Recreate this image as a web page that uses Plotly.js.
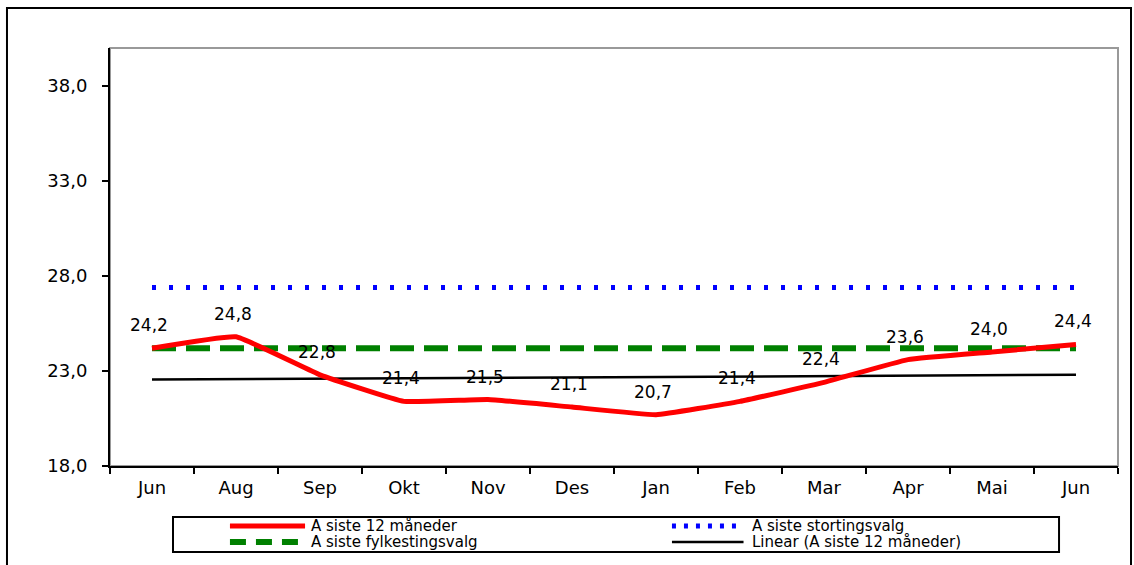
<!DOCTYPE html>
<html><head><meta charset="utf-8">
<script src="https://cdn.plot.ly/plotly-3.0.1.min.js"></script>
<style>html,body{margin:0;padding:0;background:#fff}#c{width:1134px;height:565px}</style>
</head><body><div id="c"></div>
<script>
const months = ["Jun","Aug","Sep","Okt","Nov","Des","Jan","Feb","Mar","Apr","Mai","Jun"];
const siste12 = [24.2,24.8,22.8,21.4,21.5,21.1,20.7,21.4,22.4,23.6,24.0,24.4];
const stortingsvalg = [27.4,27.4,27.4,27.4,27.4,27.4,27.4,27.4,27.4,27.4,27.4,27.4];
const fylkestingsvalg = [24.2,24.2,24.2,24.2,24.2,24.2,24.2,24.2,24.2,24.2,24.2,24.2];
const linearEnds = [22.55, 22.8];
const names = ["A siste 12 måneder","A siste stortingsvalg","A siste fylkestingsvalg","Linear (A siste 12 måneder)"];

const idx = months.map((m,i)=>i);
const font = "DejaVu Sans, Verdana, sans-serif";
const styles = [
 {color:'#ff0000', width:5},
 {color:'#0000ff', width:5, dash:'4px,13px'},
 {color:'#008000', width:6, dash:'24px,10px'},
 {color:'#000000', width:2.5}
];
const traces = [
 {x: idx, y: siste12, name: names[0], mode:'lines', line:Object.assign({shape:'spline', smoothing:0.3}, styles[0])},
 {x: idx, y: stortingsvalg, name: names[1], mode:'lines', line:styles[1]},
 {x: idx, y: fylkestingsvalg, name: names[2], mode:'lines', line:styles[2]},
 {x: [idx[0], idx[idx.length-1]], y: linearEnds, name: names[3], mode:'lines', line:styles[3]}
];
const order = [3,1,2,0];
const data = order.map(i=>traces[i]);

const bounds = [];
for (let i=0;i<=months.length;i++) bounds.push(i-0.5);

const annotations = siste12.map((v,i)=>({
  x:i, y:v, xref:'x', yref:'y', text:v.toFixed(1).replace('.',','), showarrow:false,
  yanchor:'middle', yshift:23, xshift:-3, font:{family:font, size:17, color:'#000'}
}));
const legRows = [-0.1435, -0.1818];
const legCols = [{l0:0.119, l1:0.1935, t:0.1985},{l0:0.5575, l1:0.6285, t:0.6355}];
const legendItems = [0,1,2,3];
const shapes = [
  {type:'rect', xref:'paper', yref:'paper', x0:0, x1:1, y0:0, y1:1, line:{color:'#999', width:2}, layer:'below'},
  {type:'rect', xref:'paper', yref:'paper', x0:-0.1022, x1:1.0129, y0:-0.26, y1:1.0957, line:{color:'#000', width:2}, layer:'below'},
  {type:'rect', xref:'paper', yref:'paper', x0:0.0625, x1:0.9415, y0:-0.2057, y1:-0.122, line:{color:'#000', width:2}}
];
legendItems.forEach(i=>{
  const col = legCols[i%2], row = legRows[Math.floor(i/2)];
  const st = styles[i];
  shapes.push({type:'line', xref:'paper', yref:'paper', x0:col.l0, x1:col.l1, y0:row, y1:row,
    line:{color:st.color, width:st.width, dash: i===1 ? '4px,8px' : (i===2 ? '16px,10px' : 'solid')}});
  annotations.push({xref:'paper', yref:'paper', x:col.t, y:row, xanchor:'left', yanchor:'middle',
    text:names[i], showarrow:false, borderpad:0, font:{family:font, size:15, color:'#000'}});
});

const layout = {
 width:1134, height:565, margin:{l:110, r:16, t:48, b:99},
 paper_bgcolor:'#fff', plot_bgcolor:'#fff', separators:',.',
 font:{family:font, size:18, color:'#000'},
 showlegend:false,
 xaxis:{range:[-0.5, 11.5], tickvals: idx, ticktext: months, ticks:'', showgrid:false, zeroline:false,
   showline:true, linecolor:'#000', linewidth:2, tickfont:{size:18}, automargin:false, ticklabelstandoff:4,
   minor:{tickvals: bounds, ticks:'outside', ticklen:6, tickcolor:'#000', tickwidth:2, showgrid:false}},
 yaxis:{range:[18,40], tick0:18, dtick:5, tickformat:'.1f', ticks:'outside', ticklen:6, tickwidth:2, tickcolor:'#000',
   showgrid:false, zeroline:false, showline:true, linecolor:'#000', linewidth:2, tickfont:{size:18}, automargin:false,
   ticklabelstandoff:11},
 annotations: annotations,
 shapes: shapes
};
Plotly.newPlot('c', data, layout, {displayModeBar:false, staticPlot:true});
</script></body></html>
